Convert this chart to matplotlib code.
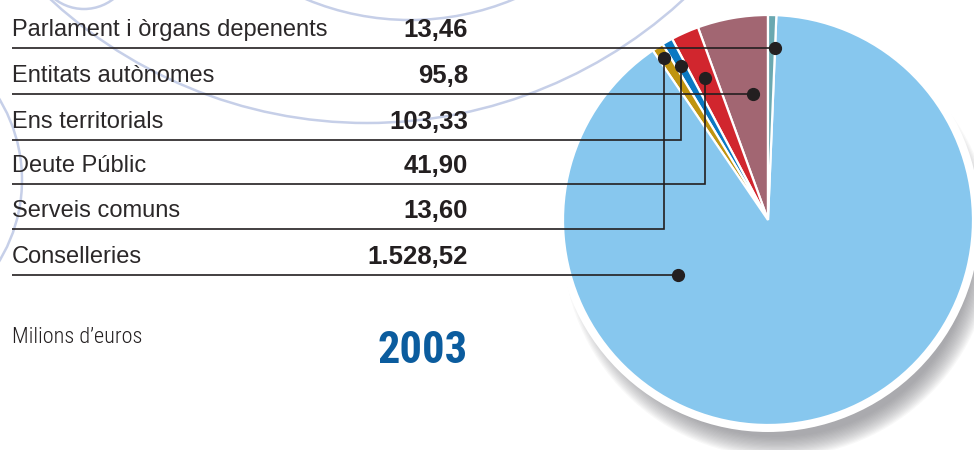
import matplotlib
matplotlib.use("Agg")
import os
import matplotlib.pyplot as plt
import numpy as np
from matplotlib import font_manager as fm
from matplotlib.patches import Circle

# table data (millions of euros, 2003)
categories = ["Parlament i òrgans depenents", "Entitats autònomes", "Ens territorials",
              "Deute Públic", "Serveis comuns", "Conselleries"]
value_labels = ["13,46", "95,8", "103,33", "41,90", "13,60", "1.528,52"]
colors = ["#6aa8b0", "#a26672", "#0a78c2", "#d1262e", "#c0940f", "#87c7ee"]

# slice sizes as drawn in the picture (% of the circle)
pie_share = [0.65, 5.55, 0.85, 2.2, 0.9, 89.85]
# counter-clockwise order from 12 o'clock
pie_order = [1, 3, 2, 4, 5, 0]

# leader lines: ('h', angle fraction in wedge) or ('v', radius fraction)
leaders = [("h", 0.0), ("h", 0.33), ("v", 0.86), ("v", 0.76), ("v", 0.94), ("h", 0.27)]

year = "2003"
unit = "Milions d\u2019euros"

W, H = 974, 450
def Y(py):
    return H - py

# pick a narrow face for the unit and the year, best first
def find_narrow(weight_words):
    files = [f.fname for f in fm.fontManager.ttflist]
    prefs = ["robotocondensed", "liberationsansnarrow", "notosans-condensed",
             "opensans-condensed", "dejavusanscondensed"]
    for p in prefs:
        cands = [fn for fn in files if os.path.basename(fn).lower().replace(" ", "").startswith(p)
                 and "italic" not in fn.lower()]
        if not cands:
            continue
        for ww in weight_words:
            for fn in cands:
                stem = os.path.splitext(os.path.basename(fn))[0].lower()
                tail = stem[len(p):].strip("-_")
                if tail == ww:
                    return fm.FontProperties(fname=fn)
        return fm.FontProperties(fname=cands[0])
    return fm.FontProperties(family="Liberation Sans")

ink = "#231f20"

fig = plt.figure(figsize=(W / 100, H / 100), dpi=100)
ax = fig.add_axes([0, 0, 1, 1])

# faint background arcs
arc_col = "#c6cfe8"
for cx, cy, r in [(84, -39, 48), (410, -250, 270), (367, -344, 467), (-134, 180, 156)]:
    ax.add_patch(Circle((cx, Y(cy)), r, fill=False, ec=arc_col, lw=1.8, zorder=1))

# pie geometry
pc = (768, Y(220))
R = 205

# soft shadow
for k in np.arange(-10, 11, 1.25):
    ax.add_patch(Circle((pc[0] + 10, pc[1] - 22), R + k, fc="#77777d", ec="none",
                        alpha=0.05, zorder=2))
ax.add_patch(Circle(pc, R + 7, fc="white", ec="none", zorder=3))

wedges, _ = ax.pie([pie_share[i] for i in pie_order], colors=[colors[i] for i in pie_order],
                   startangle=90, counterclock=True, center=pc, radius=R,
                   wedgeprops=dict(edgecolor="white", linewidth=1.6), frame=True)
for w in wedges:
    w.set_zorder(4)
wedge_of = {idx: wedges[k] for k, idx in enumerate(pie_order)}

# table
x0, x1 = 12, 468
rule_y = [48, 94, 140, 184, 229, 275]
for i, cat in enumerate(categories):
    ry = Y(rule_y[i])
    ax.text(x0, ry + 12, cat, fontsize=17, family="Liberation Sans", color="#2b2829",
            va="baseline", ha="left", zorder=6)
    ax.text(x1, ry + 11, value_labels[i], fontsize=18.5, family="Liberation Sans",
            weight="bold", color=ink, va="baseline", ha="right", zorder=6)

    w = wedge_of[i]
    t1, t2 = w.theta1, w.theta2
    mode, f = leaders[i]
    if mode == "h":
        a = np.radians(t1 + f * (t2 - t1))
        dy = ry - pc[1]
        dx = dy / np.tan(a)
        px, py = pc[0] + dx, ry
        ax.plot([x0, px], [ry, ry], color=ink, lw=1.2, zorder=7, solid_capstyle="butt")
    else:
        a = np.radians((t1 + t2) / 2)
        px = pc[0] + f * R * np.cos(a)
        py = pc[1] + f * R * np.sin(a)
        ax.plot([x0, px, px], [ry, ry, py], color=ink, lw=1.2, zorder=7,
                solid_capstyle="butt", solid_joinstyle="miter")
    ax.plot([px], [py], "o", ms=8.5, color=ink, zorder=8)

unit_fp = find_narrow(["light", "", "regular"])
unit_fp.set_size(16)
year_fp = find_narrow(["bold"])
year_fp.set_size(32)
ax.text(x0, Y(343), unit, fontproperties=unit_fp, color=ink, va="baseline", ha="left")
ax.text(x1, Y(363), year, fontproperties=year_fp, color="#0b5c9e",
        va="baseline", ha="right")

ax.set_xlim(0, W)
ax.set_ylim(0, H)
ax.set_aspect("equal")
ax.axis("off")

fig.savefig("out.png", dpi=100)
